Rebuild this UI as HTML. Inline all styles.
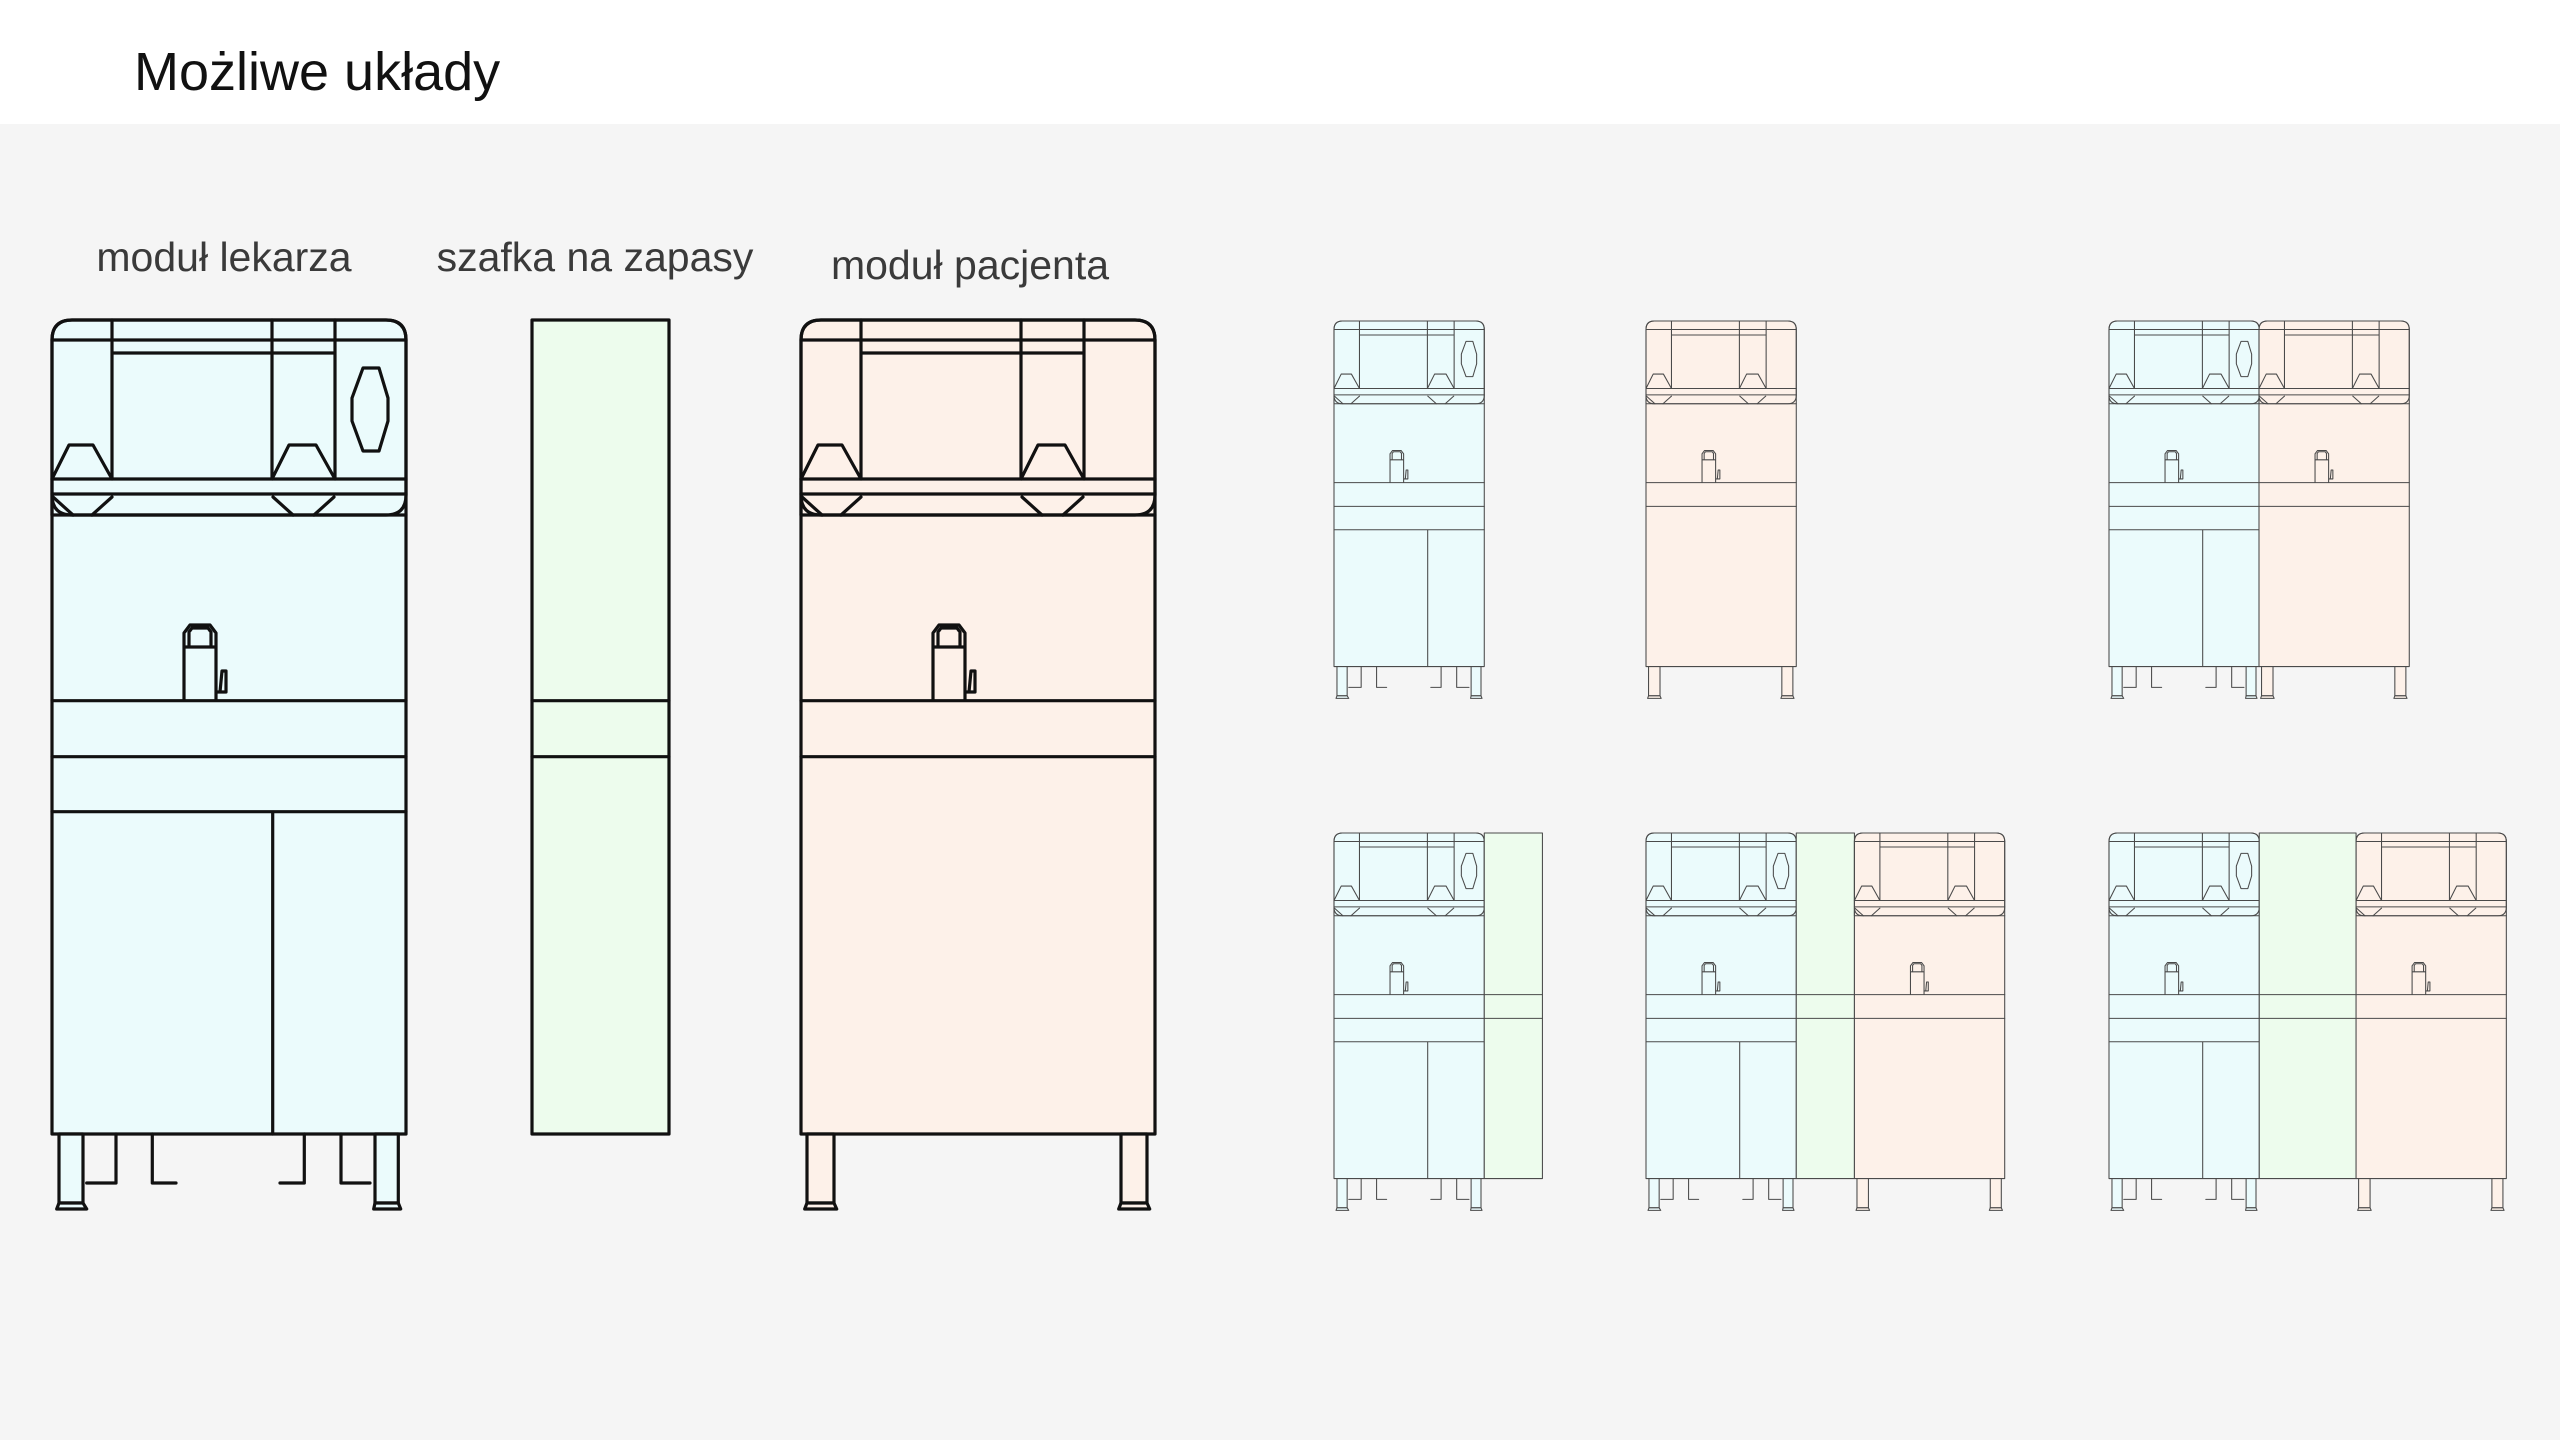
<!DOCTYPE html>
<html><head><meta charset="utf-8"><style>
html,body{margin:0;padding:0}
body{width:2560px;height:1440px;background:#f5f5f5;position:relative;overflow:hidden;font-family:"Liberation Sans",sans-serif}
.hdr{position:absolute;left:0;top:0;width:2560px;height:124px;background:#fff}
.t{position:absolute;left:134px;top:41px;font-size:54px;color:#111;white-space:nowrap}
.l{position:absolute;font-size:41px;color:#3a3a3a;white-space:nowrap;transform:translateX(-50%)}
svg{position:absolute;left:0;top:0}
</style></head><body>
<div class="hdr"></div>
<div class="t">Możliwe układy</div>
<div class="l" style="left:224px;top:234px">moduł lekarza</div>
<div class="l" style="left:595px;top:234px">szafka na zapasy</div>
<div class="l" style="left:970px;top:242px">moduł pacjenta</div>
<svg width="2560" height="1440" viewBox="0 0 2560 1440" stroke-linejoin="round" stroke-linecap="round">
<defs>
<g id="top">
 <path d="M0,195 V20 Q0,0 20,0 H334 Q354,0 354,20 V175 Q354,195 334,195 H20 Q0,195 0,175" fill="none"/>
 <path d="M0,20H354 M60,33H283 M60,0V159 M220,0V159 M283,0V159 M0,159H354 M0,174H354 M0,195H354" fill="none"/>
 <path d="M0,159 L17,125 H41 L60,159 M1,177 L21,195 M60,177 L40,195 M220,159 L237,125 H264 L283,159 M221,177 L241,195 M282,177 L262,195" fill="none"/>
 <path d="M132,380 V313 L138,305 H158 L164,313 V380 M132,327 H164 M137,327 L137,312 L140,308 H156 L159,312 L159,327 M164,372 H174 V351 H170 L168,372" fill="none"/>
 <path d="M0,380.7H354 M0,436.7H354" fill="none"/>
</g>
<g id="doc">
 <path d="M0,814 V20 Q0,0 20,0 H334 Q354,0 354,20 V814 Z" fill="#ebfbfc"/>
 <rect x="7" y="814" width="24" height="69" fill="#ebfbfc"/>
 <path d="M4.7,889 L7,883 H31 L34.7,889 Z" fill="#ebfbfc"/>
 <rect x="323" y="814" width="23.3" height="69" fill="#ebfbfc"/>
 <path d="M321.7,889 L323,883 H346.3 L348.7,889 Z" fill="#ebfbfc"/>
 <path d="M64,814 V863 H34.7 M100.3,814 V863 H124" fill="none"/>
 <path d="M252.3,814 V863 H228 M289,814 V863 H318" fill="none"/>
 <use href="#top"/>
 <polygon points="311,48 327,48 336,78 336,101 327,131 311,131 300,101 300,78" fill="none"/>
 <path d="M0,491.7H354 M220.7,491.7V814" fill="none"/>
</g>
<g id="pat">
 <path d="M0,814 V20 Q0,0 20,0 H334 Q354,0 354,20 V814 Z" fill="#fdf1e9"/>
 <rect x="6" y="814" width="27" height="69" fill="#fdf1e9"/>
 <path d="M3.7,889 L6,883 H33 L35.7,889 Z" fill="#fdf1e9"/>
 <rect x="320" y="814" width="26" height="69" fill="#fdf1e9"/>
 <path d="M317.7,889 L320,883 H346 L348.7,889 Z" fill="#fdf1e9"/>
 <use href="#top"/>
</g>
<g id="sup"><rect x="0" y="0" width="137" height="814" fill="#edfced"/><path d="M0,380.7H137 M0,436.7H137" fill="none"/></g>
<g id="supw"><rect x="0" y="0" width="228" height="814" fill="#edfced"/><path d="M0,380.7H228 M0,436.7H228" fill="none"/></g>
</defs>
<g stroke="#111" stroke-width="3.2">
 <use href="#doc" x="52" y="320"/>
 <use href="#sup" x="532" y="320"/>
 <use href="#pat" x="801" y="320"/>
</g>
<g stroke="#4a4a4a" stroke-width="2.5">
 <g transform="translate(1334,321) scale(0.4245)"><use href="#doc"/></g>
 <g transform="translate(1646,321) scale(0.4245)"><use href="#pat"/></g>
 <g transform="translate(2109,321) scale(0.4245)"><use href="#doc"/></g>
 <g transform="translate(2259,321) scale(0.4245)"><use href="#pat"/></g>

 <g transform="translate(1334,833) scale(0.4245)"><use href="#doc"/><use href="#sup" x="354"/></g>
 <g transform="translate(1646,833) scale(0.4245)"><use href="#doc"/><use href="#sup" x="354"/><use href="#pat" x="491"/></g>
 <g transform="translate(2109,833) scale(0.4245)"><use href="#doc"/><use href="#supw" x="354"/><use href="#pat" x="582"/></g>
</g>
</svg>
</body></html>
